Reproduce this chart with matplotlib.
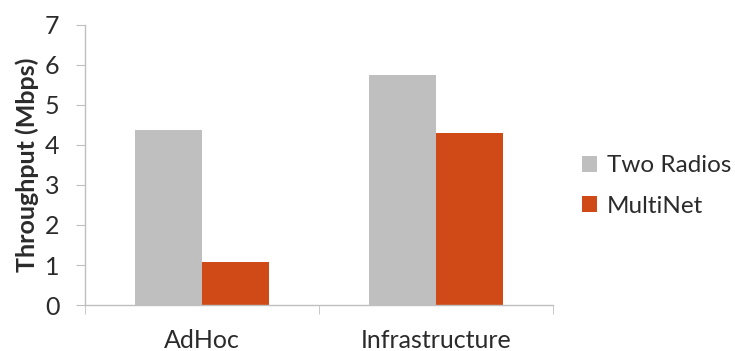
import matplotlib
matplotlib.use("Agg")
import matplotlib.pyplot as plt
import numpy as np

categories = ["AdHoc", "Infrastructure"]
series_names = ["Two Radios", "MultiNet"]
two_radios = [4.37, 5.75]
multinet = [1.07, 4.31]
y_ticks = [0, 1, 2, 3, 4, 5, 6, 7]

colors = ["#BFBFBF", "#D04A17"]
text_color = "#2B2B2B"
axis_color = "#BFBFBF"
fs = 18

plt.rcParams["font.family"] = ["Lato", "DejaVu Sans"]

fig = plt.figure(figsize=(7.35, 3.51), dpi=100)
ax = fig.add_axes([0.1156, 0.131, 0.6367, 0.798])

x = np.arange(len(categories))
w = 0.285
b1 = ax.bar(x - w / 2, two_radios, width=w, color=colors[0], label=series_names[0])
b2 = ax.bar(x + w / 2, multinet, width=w, color=colors[1], label=series_names[1])

ax.set_xlim(-0.5, len(categories) - 0.5)
ax.set_ylim(0, 7)
ax.set_yticks(y_ticks)
ax.tick_params(axis="y", length=6.5, color=axis_color, labelsize=fs,
               labelcolor=text_color, pad=12)

ax.set_xticks(x)
ax.set_xticklabels(categories)
ax.set_xticks(np.arange(len(categories) + 1) - 0.5, minor=True)
ax.tick_params(axis="x", which="major", length=0, labelsize=fs,
               labelcolor=text_color, pad=17)
ax.tick_params(axis="x", which="minor", length=6.5, color=axis_color)

for side in ["top", "right"]:
    ax.spines[side].set_visible(False)
for side in ["left", "bottom"]:
    ax.spines[side].set_color(axis_color)
    ax.spines[side].set_linewidth(1.0)

ax.set_ylabel("Throughput (Mbps)", fontsize=fs, fontweight="bold",
              color=text_color, labelpad=4)

fig.legend(handles=[b1, b2], labels=series_names, loc="center left",
           bbox_to_anchor=(0.792, 0.47), frameon=False, fontsize=17.5,
           labelcolor=text_color, handlelength=0.62, handleheight=0.62,
           handletextpad=0.4, labelspacing=0.8, borderaxespad=0,
           borderpad=0)

fig.savefig("out.png", dpi=100)
